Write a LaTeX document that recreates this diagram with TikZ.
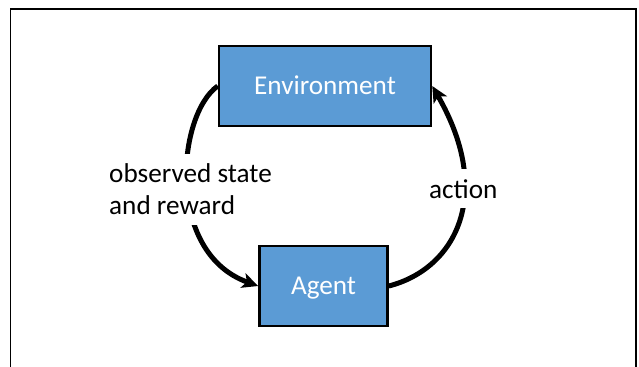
\documentclass[tikz,border=0pt]{standalone}
\usepackage{fontspec}
\setmainfont{Carlito}
\usetikzlibrary{arrows.meta}
\definecolor{boxblue}{RGB}{91,155,213}
\tikzset{
  blockbox/.style={draw=black, line width=2.5bp, fill=boxblue, text=white,
    inner sep=0pt, text height=17.6bp, text depth=0pt, font=\fontsize{27.3}{32}\selectfont},
  loopline/.style={line width=5bp, -{Stealth[length=16bp,width=15bp,inset=4bp]}},
  looplabel/.style={fill=white, inner xsep=2bp, inner ysep=10bp, text=black,
    font=\fontsize{27.3}{32}\selectfont}
}
\begin{document}
\begin{tikzpicture}[x=1bp,y=1bp]
\useasboundingbox (0,0) rectangle (639,366);
\draw[line width=1.3bp, black] (10.5,-5) -- (10.5,357) -- (636,357) -- (636,-5);
\node[blockbox, minimum width=212bp, minimum height=80bp] (env) at (325,280) {Environment};
\node[blockbox, minimum width=128bp, minimum height=80bp] (agent) at (323.5,80) {Agent};
\draw[loopline] (env.west) .. controls (177,251.3) and (165,113.2) .. (agent.west);
\draw[loopline] (agent.east) .. controls (455.6,97.1) and (494.5,171.7) .. (env.east);
\node[looplabel, align=left, anchor=west] (obs) at (107,176.5) {observed state\\and reward};
\node[looplabel, anchor=base west] (act) at (427,168) {action};
\end{tikzpicture}
\end{document}
